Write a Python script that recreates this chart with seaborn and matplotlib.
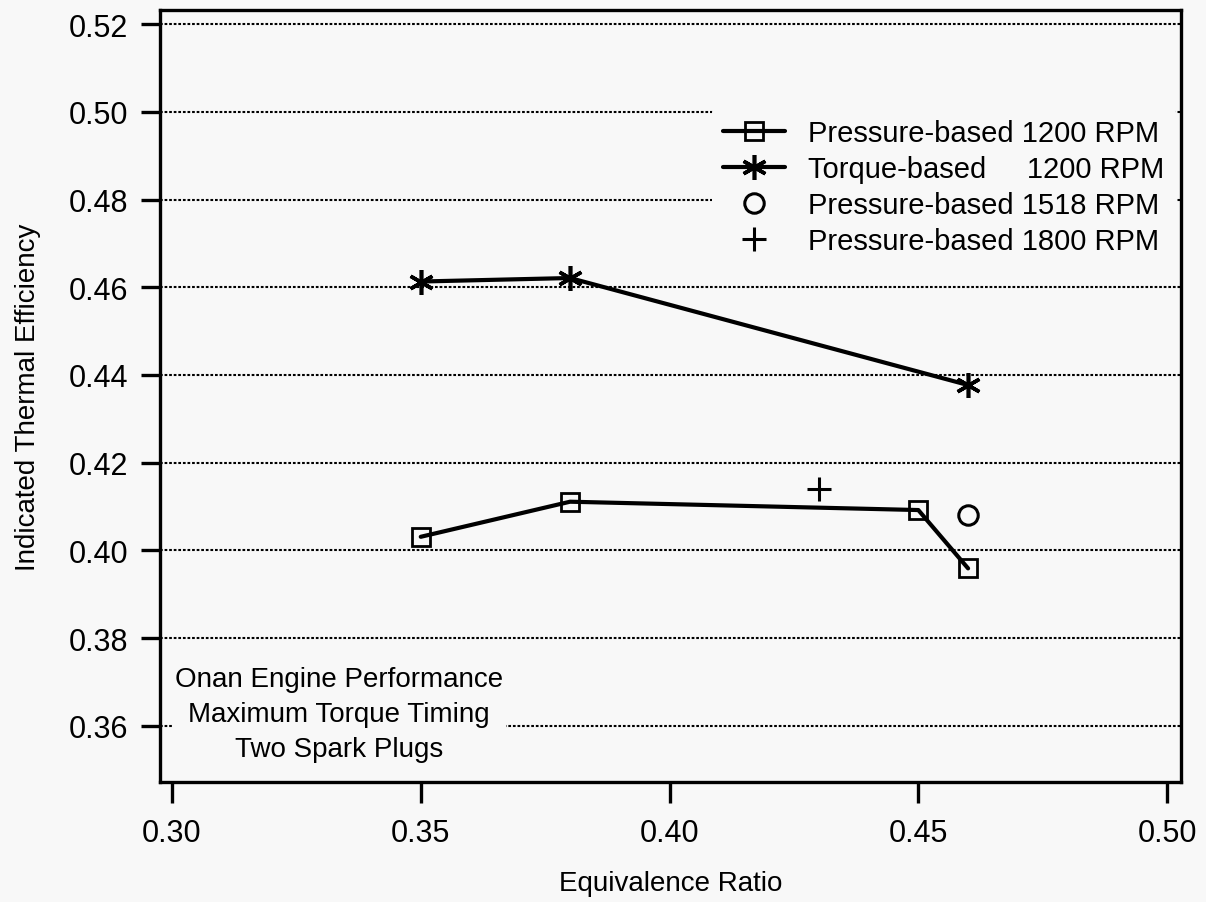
import matplotlib
matplotlib.use("Agg")
import matplotlib.pyplot as plt
import seaborn as sns

# Values
phi_p1200 = [0.35, 0.38, 0.45, 0.46]
eff_p1200 = [0.4031, 0.4111, 0.4092, 0.3959]
phi_t1200 = [0.35, 0.38, 0.46]
eff_t1200 = [0.4613, 0.4621, 0.4377]
phi_p1518 = [0.46]
eff_p1518 = [0.4081]
phi_p1800 = [0.43]
eff_p1800 = [0.4141]

series_labels = [
    "Pressure-based 1200 RPM",
    "Torque-based     1200 RPM",
    "Pressure-based 1518 RPM",
    "Pressure-based 1800 RPM",
]
x_ticks = [0.30, 0.35, 0.40, 0.45, 0.50]
y_ticks = [0.36, 0.38, 0.40, 0.42, 0.44, 0.46, 0.48, 0.50, 0.52]
note = "Onan Engine Performance\nMaximum Torque Timing\nTwo Spark Plugs"


def main():
    bg = "#f8f8f8"
    sns.set_style("ticks")
    plt.rcParams["font.family"] = ["Liberation Sans", "DejaVu Sans"]
    plt.rcParams["text.color"] = "black"
    plt.rcParams["axes.labelcolor"] = "black"

    fig = plt.figure(figsize=(12.06, 9.03), dpi=100, facecolor=bg)
    ax = fig.add_axes([0.1327, 0.1329, 0.8466, 0.8549], facecolor=bg)

    # dotted grid at every y tick
    for y in y_ticks:
        ax.axhline(y, color="black", lw=1.5, ls=(0, (1.3, 0.9)), zorder=0.5)

    sns.lineplot(x=phi_p1200, y=eff_p1200, ax=ax, color="black", lw=3.0,
                 marker="s", markersize=13, markerfacecolor="none",
                 markeredgecolor="black", markeredgewidth=2.0,
                 label=series_labels[0], sort=False, zorder=3)
    sns.lineplot(x=phi_t1200, y=eff_t1200, ax=ax, color="black", lw=3.0,
                 marker=(6, 2, 0), markersize=18, markeredgecolor="black",
                 markeredgewidth=2.6, label=series_labels[1], sort=False, zorder=3)
    sns.lineplot(x=phi_p1518, y=eff_p1518, ax=ax, color="black", linestyle="",
                 marker="o", markersize=14, markerfacecolor="none",
                 markeredgecolor="black", markeredgewidth=2.2,
                 label=series_labels[2], zorder=3)
    sns.lineplot(x=phi_p1800, y=eff_p1800, ax=ax, color="black", linestyle="",
                 marker="+", markersize=17, markeredgecolor="black",
                 markeredgewidth=2.2, label=series_labels[3], zorder=3)

    ax.set_xlim(0.2976, 0.5028)
    ax.set_ylim(0.3472, 0.5232)
    ax.set_xticks(x_ticks)
    ax.set_xticklabels([f"{v:.2f}" for v in x_ticks])
    ax.set_yticks(y_ticks)
    ax.set_yticklabels([f"{v:.2f}" for v in y_ticks])

    for side in ["left", "right", "top", "bottom"]:
        ax.spines[side].set_visible(True)
        ax.spines[side].set_linewidth(2.4)
        ax.spines[side].set_color("black")

    ax.tick_params(axis="both", direction="out", width=2.4, colors="black",
                   labelsize=22)
    ax.tick_params(axis="x", length=15, pad=11)
    ax.tick_params(axis="y", length=14, pad=9)

    ax.set_xlabel("Equivalence Ratio", fontsize=20, labelpad=16)
    ax.set_ylabel("Indicated Thermal Efficiency", fontsize=20, labelpad=20)

    leg = ax.legend(loc="upper right", bbox_to_anchor=(0.995, 0.874),
                    borderaxespad=0, frameon=True, facecolor=bg,
                    edgecolor="none", framealpha=1, fontsize=21,
                    handlelength=2.1, handletextpad=0.8, labelspacing=0.28,
                    borderpad=0.4)
    leg.set_zorder(5)
    for t in leg.get_texts():
        t.set_color("black")

    ax.text(0.3336, 0.3628, note, ha="center", va="center",
            multialignment="center", fontsize=20, linespacing=1.45,
            bbox=dict(facecolor=bg, edgecolor="none", pad=2), zorder=4)

    fig.savefig("out.png", dpi=100, facecolor=bg)


if __name__ == "__main__":
    main()
